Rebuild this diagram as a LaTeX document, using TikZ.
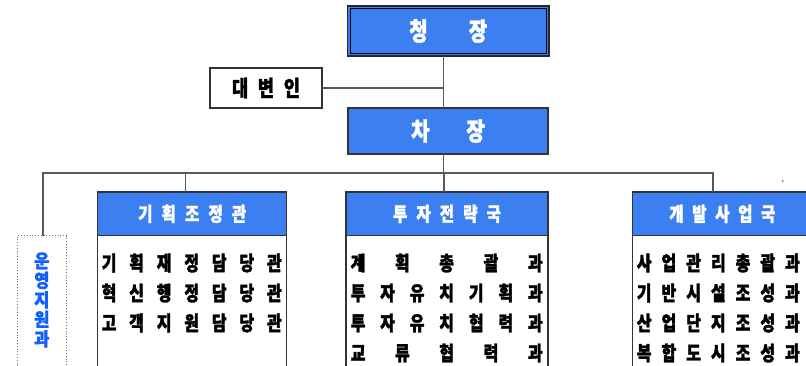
\documentclass[tikz,border=0pt]{standalone}
\usepackage{fontspec}
\newfontfamily\kr{Noto Sans CJK KR}[FakeStretch=0.8, BoldFeatures={FakeBold=1.6}]
\newfontfamily\krw{Noto Sans CJK KR}[FakeStretch=0.9, BoldFeatures={FakeBold=1.3}]
\definecolor{hblue}{RGB}{59,127,240}
\definecolor{vblue}{RGB}{16,96,255}
\newcommand\hf{\hfill}
\tikzset{
  conn/.style={draw=black!65, line width=1.2pt},
  boxb/.style={draw=black!80, line width=1.2pt, inner sep=0pt, outer sep=0pt, rectangle},
  topbox/.style={boxb, fill=hblue, text=white, font=\kr\bfseries\fontsize{25}{25}\selectfont},
  hdr/.style={boxb, fill=hblue, text=white, minimum height=43.7pt, anchor=north, font=\kr\bfseries\fontsize{19.5}{19.5}\selectfont},
  row/.style={inner sep=0pt, font=\kr\bfseries\fontsize{20}{20}\selectfont},
}
\begin{document}
\begin{tikzpicture}[x=1pt,y=-1pt]
\clip (0,0) rectangle (806,366);
\fill[white] (0,0) rectangle (806,366);

% top boxes
\node[topbox, minimum width=201.5pt, minimum height=50pt, draw=black!85, line width=1.6pt] (chung) at (448.25,31) {\makebox[78pt][s]{청\hf{}장}};
\draw[black, line width=0.6pt] ([shift={(2.6,2.6)}]chung.north west) rectangle ([shift={(-2.6,-2.6)}]chung.south east);
\node[boxb, fill=white, minimum width=112pt, minimum height=40pt, font=\kr\bfseries\fontsize{22}{22}\selectfont] (dae) at (266,88) {\makebox[68pt][s]{대\hf{}변\hf{}인}};
\node[topbox, minimum width=200pt, minimum height=46pt] (cha) at (448,131) {\makebox[73.6pt][s]{차\hf{}장}};

% lower boxes
\node[boxb, draw=black!55, line width=0.8pt, dotted, minimum width=49pt, minimum height=164.3pt] (unyoung) at (41.8,317.85) {};
\node[inner sep=0pt, text=vblue, align=center, font=\krw\bfseries\fontsize{18.5}{19.5}\selectfont] (unyt) at (41.8,300) {운\\영\\지\\원\\과};

\node[boxb, fill=white, minimum width=189pt, minimum height=198pt] (gijo) at (192.2,291) {};
\node[hdr, minimum width=189pt] (gijoh) at (gijo.north) {\makebox[108pt][s]{기\hf{}획\hf{}조\hf{}정\hf{}관}};

\node[boxb, fill=white, minimum width=202pt, minimum height=198pt] (tuja) at (447,291) {};
\node[hdr, minimum width=202pt] (tujah) at (tuja.north) {\makebox[108pt][s]{투\hf{}자\hf{}전\hf{}략\hf{}국}};

\node[boxb, fill=white, minimum width=179.3pt, minimum height=198pt] (gaebal) at (722.35,291) {};
\node[hdr, minimum width=179.3pt] (gaebalh) at (gaebal.north) {\makebox[106pt][s]{개\hf{}발\hf{}사\hf{}업\hf{}국}};

% rows
\node[row] (g1) at (191.7,263) {\makebox[180pt][s]{기\hf{}획\hf{}재\hf{}정\hf{}담\hf{}당\hf{}관}};
\node[row] (g2) at (191.7,293) {\makebox[180pt][s]{혁\hf{}신\hf{}행\hf{}정\hf{}담\hf{}당\hf{}관}};
\node[row] (g3) at (191.7,323) {\makebox[180pt][s]{고\hf{}객\hf{}지\hf{}원\hf{}담\hf{}당\hf{}관}};

\node[row] (t1) at (446.7,263) {\makebox[192pt][s]{계\hf{}획\hf{}총\hf{}괄\hf{}과}};
\node[row] (t2) at (446.7,293) {\makebox[192pt][s]{투\hf{}자\hf{}유\hf{}치\hf{}기\hf{}획\hf{}과}};
\node[row] (t3) at (446.7,323) {\makebox[192pt][s]{투\hf{}자\hf{}유\hf{}치\hf{}협\hf{}력\hf{}과}};
\node[row] (t4) at (446.7,353) {\makebox[192pt][s]{교\hf{}류\hf{}협\hf{}력\hf{}과}};

\node[row] (k1) at (718.3,263) {\makebox[163pt][s]{사\hf{}업\hf{}관\hf{}리\hf{}총\hf{}괄\hf{}과}};
\node[row] (k2) at (718.3,293) {\makebox[163pt][s]{기\hf{}반\hf{}시\hf{}설\hf{}조\hf{}성\hf{}과}};
\node[row] (k3) at (718.3,323) {\makebox[163pt][s]{산\hf{}업\hf{}단\hf{}지\hf{}조\hf{}성\hf{}과}};
\node[row] (k4) at (718.3,353) {\makebox[163pt][s]{복\hf{}합\hf{}도\hf{}시\hf{}조\hf{}성\hf{}과}};

% connectors
\coordinate (spine) at ([xshift=-4.4pt]chung.south);
\coordinate (busL) at (43,173);
\coordinate (busR) at (713,173);
\draw[conn] (spine) -- (spine |- cha.north);
\draw[conn] (dae.east) -- (dae.east -| spine);
\draw[conn] (spine |- cha.south) -- (spine |- busL);
\draw[conn] (busL |- unyoung.north) -- (busL) -- (busR) -- (busR |- gaebal.north);
\draw[conn] ([xshift=-7pt]gijo.north) -- ([xshift=-7pt]gijo.north |- busL);
\draw[conn] ([xshift=-3pt]tuja.north) -- ([xshift=-3pt]tuja.north |- busL);

% stray mark
\fill[black!70] (782.7,181) circle (0.8pt);
\end{tikzpicture}
\end{document}
